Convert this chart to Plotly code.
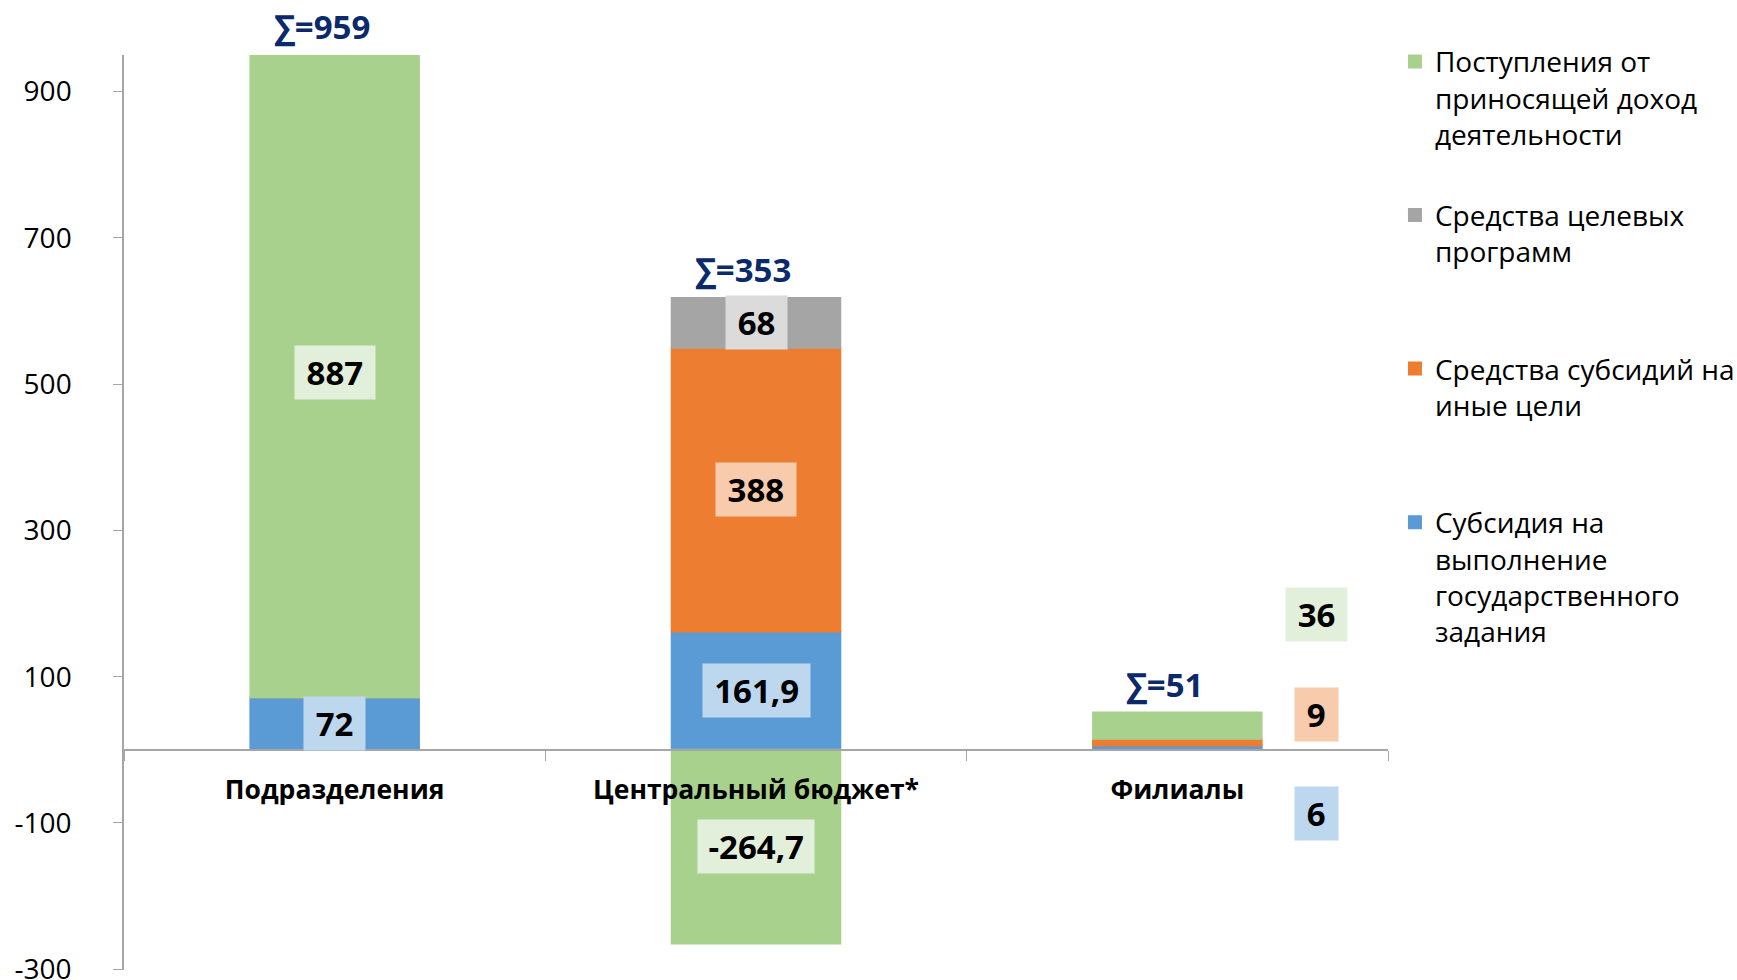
import plotly.graph_objects as go

categories = ["Подразделения", "Центральный бюджет*", "Филиалы"]

# series, bottom of the stack first
subsidy_state = [72, 161.9, 6]
subsidy_other = [0, 388, 9]
target_programs = [0, 68, 0]
income = [887, -264.7, 36]

series_names = [
    "Субсидия на<br>выполнение<br>государственного<br>задания",
    "Средства субсидий на<br>иные цели<br> <br> ",
    "Средства целевых<br>программ<br> <br> ",
    "Поступления от<br>приносящей доход<br>деятельности<br> ",
]

y_ticks = [-300, -100, 100, 300, 500, 700, 900]
y_tick_text = ["-300", "-100", "100", "300", "500", "700", "900"]
y_range = [-301, 950]

series = [subsidy_state, subsidy_other, target_programs, income]
bar_colors = ["#5B9BD5", "#ED7D31", "#A5A5A5", "#A9D18E"]
label_bg = ["#BDD7EE", "#F8CBAD", "#DBDBDB", "#E2EFDA"]

# data labels of the small "Филиалы" bar are moved to the right of it
side_label_y = {0: -87, 1: 48, 3: 185}
side_label_dx = 0.33

FONT = "Open Sans"


def fmt(v):
    return f"{v:g}".replace(".", ",")


def box_width(text):
    digits = sum(ch.isdigit() for ch in text)
    return 14 + 18.6 * digits + 9 * (len(text) - digits)


fig = go.Figure()
for k, (vals, name, color) in enumerate(zip(series, series_names, bar_colors)):
    fig.add_trace(go.Bar(
        x=categories,
        y=vals,
        name=name,
        legendgroup=name,
        legendrank=len(series) - k,
        marker=dict(color=color, line=dict(color=color, width=2)),
        hoverinfo="x+y",
    ))

# data labels in light boxes at the middle of each segment
pos_base = [0.0] * len(categories)
neg_base = [0.0] * len(categories)
for s, vals in enumerate(series):
    for i, v in enumerate(vals):
        if v == 0:
            continue
        if v > 0:
            mid = pos_base[i] + v / 2
            pos_base[i] += v
        else:
            mid = neg_base[i] + v / 2
            neg_base[i] += v
        text = fmt(v)
        x = i
        y = mid
        if i == 2:
            x = i + side_label_dx
            y = side_label_y[s]
        fig.add_annotation(
            x=x, y=y, xref="x", yref="y",
            text=f"<b>{text}</b>", showarrow=False,
            font=dict(family=FONT, size=33, color="#000000"),
            bgcolor=label_bg[s], borderpad=5,
            width=box_width(text), height=43,
        )

# totals above each bar
for i in range(len(categories)):
    total = sum(vals[i] for vals in series)
    top = min(pos_base[i], y_range[1])
    fig.add_annotation(
        x=i, y=top, xref="x", yref="y",
        text=f"<b>∑={round(total)}</b>", showarrow=False,
        font=dict(family=FONT, size=33, color="#0B2A6B"),
        yanchor="bottom", yshift=4, xshift=-13,
    )

zero_pos = (0 - y_range[0]) / (y_range[1] - y_range[0])

fig.update_layout(
    width=1737,
    height=980,
    barmode="relative",
    bargap=0.6,
    plot_bgcolor="white",
    paper_bgcolor="white",
    margin=dict(l=124, r=349, t=55, b=10, autoexpand=False),
    font=dict(family=FONT, color="#000000"),
    showlegend=True,
    legend=dict(
        x=1.0055, y=1.02, xanchor="left", yanchor="top",
        traceorder="grouped",
        tracegroupgap=5,
        valign="top",
        maxheight=980,
        font=dict(family=FONT, size=28, color="#000000"),
    ),
    xaxis=dict(
        type="category",
        range=[-0.5, 2.5],
        anchor="free",
        position=zero_pos,
        automargin=False,
        showline=True, linecolor="#A6A6A6", linewidth=1.5,
        ticks="outside", ticklen=10, tickcolor="#A6A6A6",
        tickson="boundaries",
        ticklabelstandoff=17,
        tickfont=dict(family=FONT, size=26.5, color="#000000", weight="bold"),
        showgrid=False,
    ),
    yaxis=dict(
        range=y_range,
        tickvals=y_ticks,
        ticktext=y_tick_text,
        automargin=False,
        ticklabeloverflow="allow",
        showline=True, linecolor="#A6A6A6", linewidth=1.5,
        ticks="outside", ticklen=9, tickcolor="#A6A6A6",
        ticklabelstandoff=36,
        tickfont=dict(family=FONT, size=28, color="#000000"),
        showgrid=False, zeroline=False,
    ),
)

# the page keeps the browser's default 8px body margin otherwise
fig.write_html(
    "out.html",
    config={"displayModeBar": False},
    post_script="document.body.style.margin = '0px';",
)
